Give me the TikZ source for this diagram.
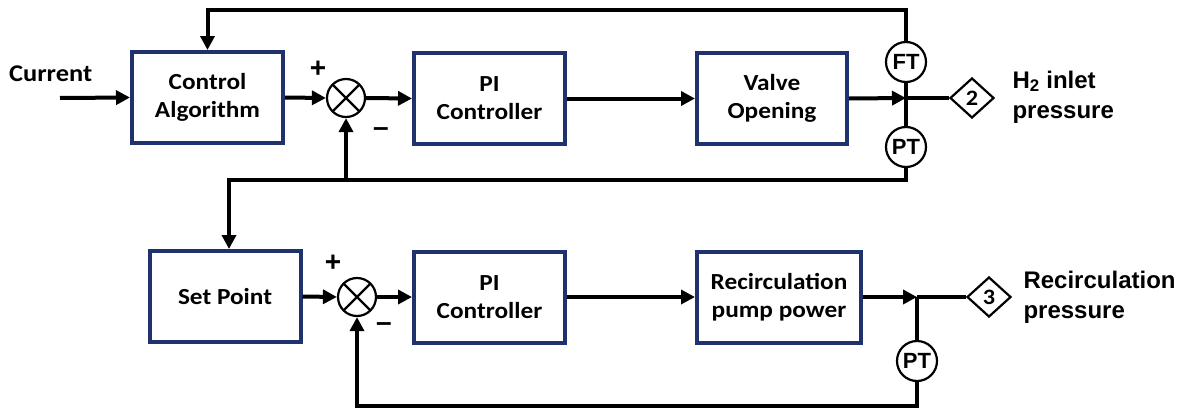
\documentclass[tikz,border=0pt]{standalone}
\usepackage{fontspec}
\setmainfont{Liberation Sans}
\newfontfamily\calfont[FakeStretch=1.1]{Carlito}
\usetikzlibrary{arrows.meta,shapes.geometric,calc}
\definecolor{navy}{RGB}{31,50,110}
\begin{document}
\begin{tikzpicture}[x=1pt,y=-1pt,
 blk/.style={draw=navy,line width=4pt,minimum width=151pt,minimum height=91pt,inner sep=0pt,align=center,font=\calfont\bfseries\fontsize{23}{28}\selectfont},
 sumnode/.style={circle,draw,line width=2.2pt,minimum size=38pt,inner sep=0pt,path picture={\draw[line width=2.2pt] (path picture bounding box.north west)--(path picture bounding box.south east) (path picture bounding box.north east)--(path picture bounding box.south west);}},
 sensor/.style={circle,draw,line width=2.2pt,fill=white,minimum size=40pt,inner sep=0pt,font=\bfseries\fontsize{22}{22}\selectfont},
 tagbox/.style={diamond,draw,line width=2.2pt,minimum width=44pt,minimum height=40pt,inner sep=0pt,font=\calfont\bfseries\fontsize{22}{22}\selectfont},
 wire/.style={line width=4pt},
 arr/.style={wire,-{Triangle[length=14pt,width=14pt]}},
 lbl/.style={font=\bfseries\fontsize{24}{30}\selectfont,align=left,anchor=west},
 sign/.style={font=\bfseries\fontsize{28}{28}\selectfont,inner sep=0pt}
]
\useasboundingbox (0,0) rectangle (1191,410);
% top row
\node[blk] (ca) at (207.5,97.5) {Control\\Algorithm};
\node[sumnode] (s1) at (346,98) {};
\node[blk] (pi1) at (489.5,98.5) {PI\\Controller};
\node[blk,minimum width=150pt] (vo) at (772,98.5) {Valve\\Opening};
\coordinate (j1) at (906,98);
\node[sensor] (ft) at (906,62) {FT};
\node[sensor] (pt1) at (906,147) {PT};
\node[tagbox] (d2) at (972,98) {2};
\node[lbl] (l2) at (1009,97) {H\textsubscript{2} inlet\\pressure};
\node[font=\calfont\bfseries\fontsize{24}{24}\selectfont,anchor=west,inner sep=0pt] (cur) at (9,74) {Current};
\coordinate (cin) at (60,98);
\node[sign] (p1) at (318,69) {+};
\node[sign] (m1) at (381,132) {--};
% bottom row
\node[blk] (sp) at (225,296.5) {Set Point};
\node[sumnode] (s2) at (357,297) {};
\node[blk] (pi2) at (489.5,297) {PI\\Controller};
\node[blk,minimum width=164pt] (rp) at (779,297) {Recirculation\\pump power};
\coordinate (j2) at (917,297);
\node[sensor] (pt2) at (917,361) {PT};
\node[tagbox] (d3) at (989,297) {3};
\node[lbl] (l3) at (1020,297) {Recirculation\\pressure};
\node[sign] (p2) at (333,263) {+};
\node[sign] (m2) at (384,327) {--};
% coordinates for feedback routes
\coordinate (ftop) at (906,10);
\coordinate (pbot) at (906,180);
\coordinate (sptop) at (229,180);
\coordinate (bbot) at (917,406);
% connectors top
\draw[arr] (cin) -- (ca.west);
\draw[arr] (ca.east) -- (s1.west);
\draw[arr] (s1.east) -- (pi1.west);
\draw[arr] (pi1.east) -- (pi1.east -| vo.west);
\draw[arr] (vo.east) -- (j1);
\draw[wire] (j1) -- (d2.west);
\draw[wire] (ft.south) -- (pt1.north);
\draw[arr] (ft.north) -- (ftop) -- (ftop -| ca.north) -- (ca.north);
\draw[arr] (pt1.south) -- (pbot) -- (sptop) -- (sptop |- sp.north);
\draw[arr] (pbot -| s1.south) -- (s1.south);
% connectors bottom
\draw[arr] (sp.east) -- (s2.west);
\draw[arr] (s2.east) -- (pi2.west);
\draw[arr] (pi2.east) -- (pi2.east -| rp.west);
\draw[arr] (rp.east) -- (j2);
\draw[wire] (j2) -- (d3.west);
\draw[wire] (j2) -- (pt2.north);
\draw[arr] (pt2.south) -- (bbot) -- (bbot -| s2.south) -- (s2.south);
\end{tikzpicture}
\end{document}
